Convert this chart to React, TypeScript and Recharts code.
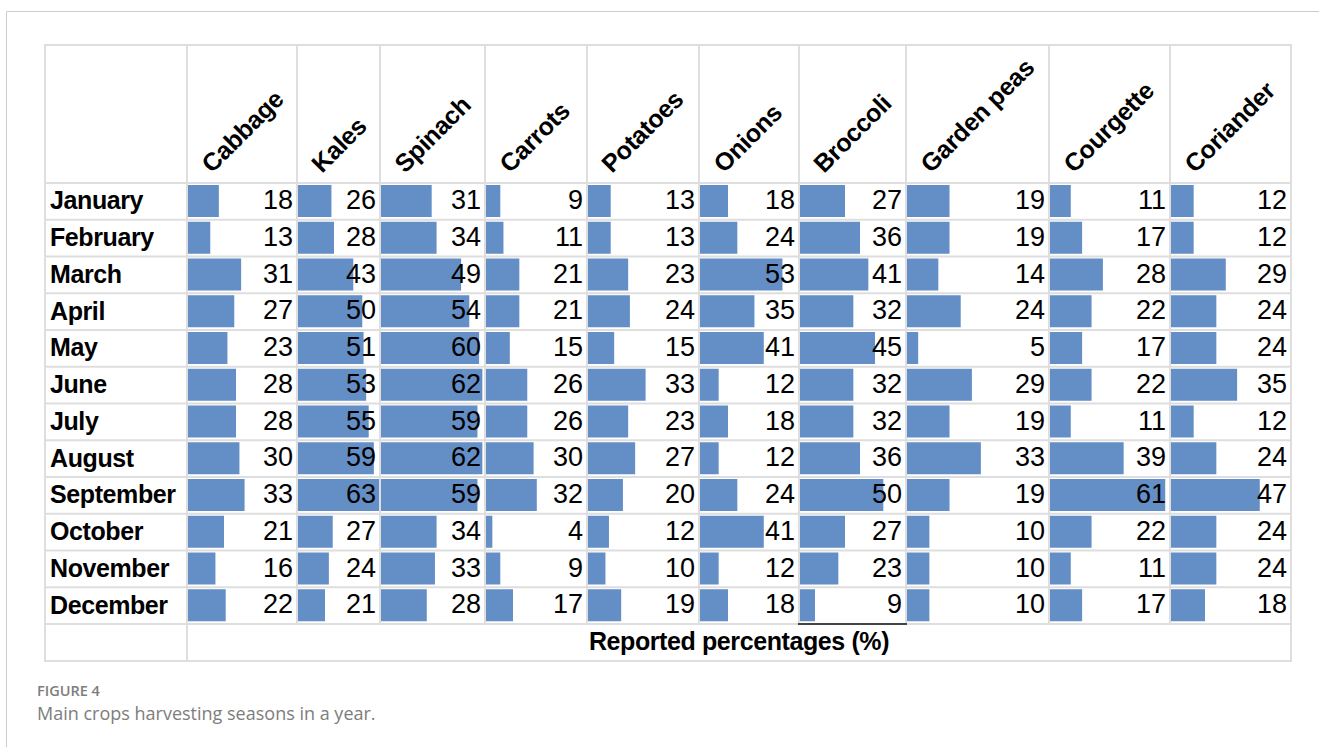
import React from "react";
import { BarChart, Bar, XAxis, YAxis, LabelList } from "recharts";

const months = [
  "January", "February", "March", "April", "May", "June",
  "July", "August", "September", "October", "November", "December",
];

const crops = [
  "Cabbage", "Kales", "Spinach", "Carrots", "Potatoes",
  "Onions", "Broccoli", "Garden peas", "Courgette", "Coriander",
];

// reported percentage for each month, Jan..Dec
const cabbage = [18, 13, 31, 27, 23, 28, 28, 30, 33, 21, 16, 22];
const kales = [26, 28, 43, 50, 51, 53, 55, 59, 63, 27, 24, 21];
const spinach = [31, 34, 49, 54, 60, 62, 59, 62, 59, 34, 33, 28];
const carrots = [9, 11, 21, 21, 15, 26, 26, 30, 32, 4, 9, 17];
const potatoes = [13, 13, 23, 24, 15, 33, 23, 27, 20, 12, 10, 19];
const onions = [18, 24, 53, 35, 41, 12, 18, 12, 24, 41, 12, 18];
const broccoli = [27, 36, 41, 32, 45, 32, 32, 36, 50, 27, 23, 9];
const gardenPeas = [19, 19, 14, 24, 5, 29, 19, 33, 19, 10, 10, 10];
const courgette = [11, 17, 28, 22, 17, 22, 11, 39, 61, 22, 11, 17];
const coriander = [12, 12, 29, 24, 24, 35, 12, 24, 47, 24, 24, 18];

const cropValues = [
  cabbage, kales, spinach, carrots, potatoes,
  onions, broccoli, gardenPeas, courgette, coriander,
];

// every column shares one scale, the top reading fills its cell
const BAR_MAX = 63;

const BAR_COLOR = "#638EC6";
const GRID = "#dedede";
const FONT = '"Liberation Sans", Arial, sans-serif';

// table geometry
const LEFT = 45;
const RIGHT = 1291;
const TOP = 45;
const HEAD_BOTTOM = 183;
const ROW_H = 36.75;
const BODY_H = ROW_H * months.length;
const BODY_BOTTOM = HEAD_BOTTOM + BODY_H;
const BOTTOM = 661;
const colEdges = [187, 297, 380, 485, 587, 699, 799, 906, 1049, 1170, 1291];

const valueLabel = (cellWidth: number) => (props: any) => {
  const box = props.viewBox ?? props;
  const cy = Number(box.y) + Number(box.height) / 2;
  return (
    <text
      x={cellWidth - 3}
      y={cy + 8}
      textAnchor="end"
      fontFamily={FONT}
      fontSize={27}
      fill="#000"
    >
      {props.value}
    </text>
  );
};

const CropColumn = ({ index }: { index: number }) => {
  const left = colEdges[index] + 1;
  const width = colEdges[index + 1] - colEdges[index] - 2;
  const data = months.map((m, i) => ({ month: m, value: cropValues[index][i] }));

  return (
    <div style={{ position: "absolute", left, top: HEAD_BOTTOM, width, height: BODY_H }}>
      <BarChart
        width={width}
        height={BODY_H}
        data={data}
        layout="vertical"
        margin={{ top: 0, right: 0, bottom: 0, left: 0 }}
      >
        <XAxis type="number" domain={[0, BAR_MAX]} hide />
        <YAxis type="category" dataKey="month" hide />
        <Bar dataKey="value" fill={BAR_COLOR} barSize={32} isAnimationActive={false}>
          <LabelList dataKey="value" content={valueLabel(width)} />
        </Bar>
      </BarChart>
    </div>
  );
};

const App = () => {
  const rowLines = months.map((_, i) => HEAD_BOTTOM + i * ROW_H);

  return (
    <div
      style={{
        position: "absolute",
        left: 0,
        top: 0,
        width: 1319,
        height: 747,
        background: "#fff",
        overflow: "hidden",
      }}
    >
      <svg width={1319} height={747} style={{ position: "absolute", left: 0, top: 0 }}>
        {/* page frame */}
        <line x1={6.5} y1={11.5} x2={1319} y2={11.5} stroke="#cccccc" strokeWidth={1} />
        <line x1={6.5} y1={11.5} x2={6.5} y2={747} stroke="#cccccc" strokeWidth={1} />

        {/* table grid */}
        <line x1={LEFT - 1} y1={TOP} x2={RIGHT + 1} y2={TOP} stroke={GRID} strokeWidth={2} />
        {rowLines.map((y) => (
          <line key={y} x1={LEFT - 1} y1={y} x2={RIGHT + 1} y2={y} stroke={GRID} strokeWidth={2} />
        ))}
        <line x1={LEFT - 1} y1={BODY_BOTTOM} x2={RIGHT + 1} y2={BODY_BOTTOM} stroke={GRID} strokeWidth={2} />
        <line x1={LEFT - 1} y1={BOTTOM} x2={RIGHT + 1} y2={BOTTOM} stroke={GRID} strokeWidth={2} />
        <line x1={LEFT} y1={TOP} x2={LEFT} y2={BOTTOM} stroke={GRID} strokeWidth={2} />
        <line x1={colEdges[0]} y1={TOP} x2={colEdges[0]} y2={BOTTOM} stroke={GRID} strokeWidth={2} />
        <line x1={RIGHT} y1={TOP} x2={RIGHT} y2={BOTTOM} stroke={GRID} strokeWidth={2} />
        {colEdges.slice(1, -1).map((x) => (
          <line key={x} x1={x} y1={TOP} x2={x} y2={BODY_BOTTOM} stroke={GRID} strokeWidth={2} />
        ))}
        {/* stray cell border under Broccoli / December */}
        <line x1={798} y1={BODY_BOTTOM} x2={907} y2={BODY_BOTTOM} stroke="#111" strokeWidth={1.6} />

        {/* crop headers */}
        {crops.map((c, i) => {
          const x = colEdges[i] + 25;
          const y = 174;
          return (
            <text
              key={c}
              x={x}
              y={y}
              transform={`rotate(-45 ${x} ${y})`}
              fontFamily={FONT}
              fontSize={25}
              fontWeight={700}
              letterSpacing={-0.3}
              fill="#000"
            >
              {c}
            </text>
          );
        })}

        {/* month labels */}
        {months.map((m, i) => (
          <text
            key={m}
            x={50}
            y={HEAD_BOTTOM + i * ROW_H + ROW_H / 2 + 8}
            fontFamily={FONT}
            fontSize={25}
            fontWeight={700}
            letterSpacing={-0.4}
            fill="#000"
          >
            {m}
          </text>
        ))}

        <text
          x={(colEdges[0] + RIGHT) / 2}
          y={650}
          textAnchor="middle"
          fontFamily={FONT}
          fontSize={25}
          fontWeight={700}
          letterSpacing={-0.4}
          fill="#000"
        >
          Reported percentages (%)
        </text>

        {/* caption */}
        <text x={37} y={696} fontFamily='"Open Sans", sans-serif' fontSize={14.5} fontWeight={600} fill="#7d7d7d">
          FIGURE 4
        </text>
        <text x={37} y={720} fontFamily='"Open Sans", sans-serif' fontSize={18} fill="#7d7d7d">
          Main crops harvesting seasons in a year.
        </text>
      </svg>

      {crops.map((c, i) => (
        <CropColumn key={c} index={i} />
      ))}
    </div>
  );
};

export default App;
